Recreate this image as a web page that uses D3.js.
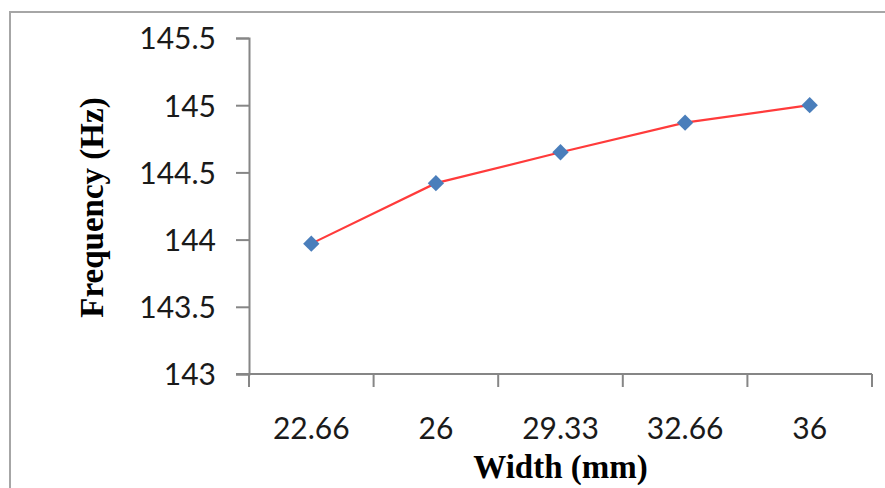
<!DOCTYPE html>
<html>
<head>
<meta charset="utf-8">
<script src="https://cdn.jsdelivr.net/npm/d3@7"></script>
<style>
  html, body { margin: 0; padding: 0; background: #fff; }
  svg { display: block; }
</style>
</head>
<body>
<svg id="chart" width="885" height="488"></svg>
<script>
const categories = ["22.66", "26", "29.33", "32.66", "36"];
const frequency = [143.97, 144.42, 144.65, 144.87, 145.0];
const yTicks = [143, 143.5, 144, 144.5, 145, 145.5];
const xTitle = "Width (mm)";
const yTitle = "Frequency (Hz)";

const svg = d3.select("#chart");
const W = 885, H = 488;
const plot = { left: 249, right: 872, top: 38, bottom: 374 };

// chart border
svg.append("rect")
  .attr("x", 10).attr("y", 12)
  .attr("width", W + 20).attr("height", H + 20)
  .attr("fill", "none").attr("stroke", "#a6a6a6").attr("stroke-width", 2);

const x = d3.scaleBand().domain(categories).range([plot.left, plot.right]);
const y = d3.scaleLinear().domain([143, 145.5]).range([plot.bottom, plot.top]);

const tickFont = "Lato, 'Open Sans', sans-serif";
const axisColor = "#868686";

// Y axis
const yAxis = svg.append("g")
  .attr("transform", `translate(${plot.left},0)`)
  .call(d3.axisLeft(y).tickValues(yTicks).tickSize(13).tickPadding(20)
    .tickFormat(d => d3.format("")(d)));
yAxis.select(".domain").attr("stroke", axisColor).attr("stroke-width", 2);
yAxis.selectAll(".tick line").attr("stroke", axisColor).attr("stroke-width", 2);
yAxis.selectAll(".tick text")
  .attr("font-family", tickFont).attr("font-size", 30).attr("fill", "#1a1a1a")
  .attr("dy", "0.36em");

// X axis
const xAxis = svg.append("g")
  .attr("transform", `translate(0,${plot.bottom})`)
  .call(d3.axisBottom(x).tickSize(0).tickPadding(44));
xAxis.select(".domain").remove();
svg.append("line")
  .attr("x1", plot.left - 13).attr("x2", plot.right)
  .attr("y1", plot.bottom).attr("y2", plot.bottom)
  .attr("stroke", axisColor).attr("stroke-width", 2);
// tick marks at band boundaries
const boundaries = categories.map(c => x(c)).concat([x(categories[categories.length - 1]) + x.bandwidth()]);
svg.append("g").selectAll("line").data(boundaries).join("line")
  .attr("x1", d => d).attr("x2", d => d)
  .attr("y1", plot.bottom).attr("y2", plot.bottom + 13)
  .attr("stroke", axisColor).attr("stroke-width", 2);
xAxis.selectAll(".tick text")
  .attr("font-family", tickFont).attr("font-size", 30).attr("fill", "#1a1a1a");

// Axis titles
svg.append("text")
  .attr("x", (plot.left + plot.right) / 2).attr("y", 478)
  .attr("text-anchor", "middle")
  .attr("font-family", "'Liberation Serif', 'Times New Roman', serif")
  .attr("font-weight", "bold").attr("font-size", 33).attr("fill", "#000")
  .text(xTitle);

svg.append("text")
  .attr("transform", `translate(103,${(95 + 320) / 2}) rotate(-90)`)
  .attr("text-anchor", "middle")
  .attr("font-family", "'Liberation Serif', 'Times New Roman', serif")
  .attr("font-weight", "bold").attr("font-size", 33).attr("fill", "#000")
  .text(yTitle);

// Line
const data = categories.map((c, i) => ({ c, v: frequency[i] }));
const cx = d => x(d.c) + x.bandwidth() / 2;
svg.append("path")
  .datum(data)
  .attr("fill", "none").attr("stroke", "#ff3b3b").attr("stroke-width", 2.2)
  .attr("d", d3.line().x(cx).y(d => y(d.v)));

// Markers
svg.append("g").selectAll("path").data(data).join("path")
  .attr("transform", d => `translate(${cx(d)},${y(d.v)})`)
  .attr("d", d3.symbol().type(d3.symbolDiamond2).size(170))
  .attr("fill", "#4a7ebb");
</script>
</body>
</html>
